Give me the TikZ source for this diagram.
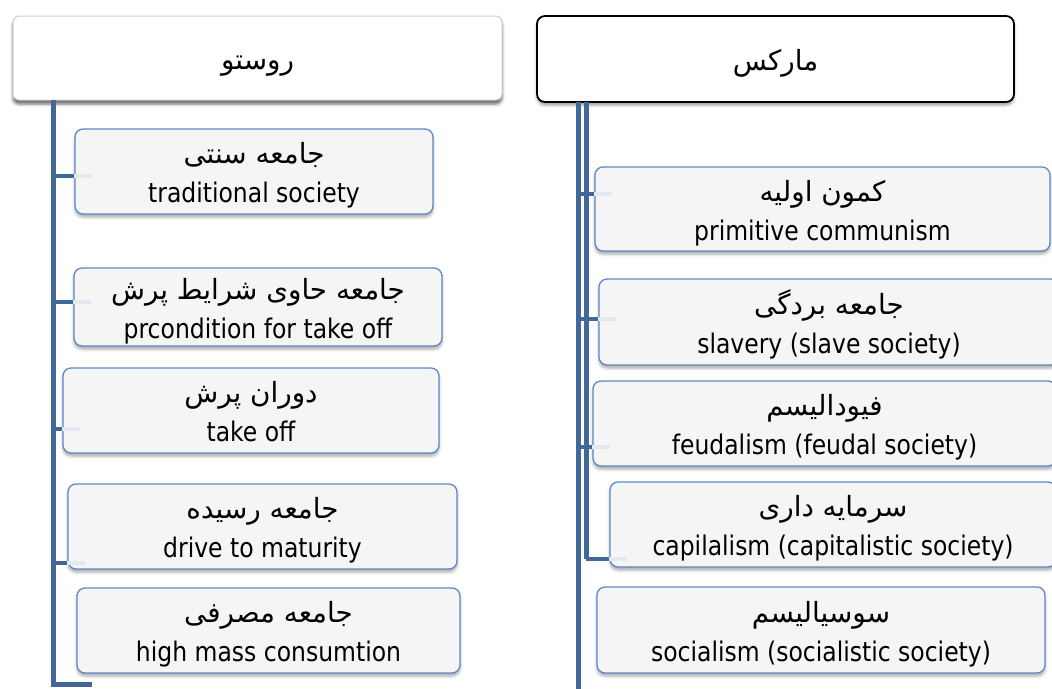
\documentclass[tikz,border=0pt]{standalone}
\usepackage{fontspec}
\setmainfont{DejaVu Sans}[FakeStretch=0.87]
\newfontfamily\arabicfont[Script=Arabic,Scale=1.03]{DejaVu Sans}
\TeXXeTstate=1
\usetikzlibrary{shadows.blur}

\definecolor{trunkblue}{RGB}{66,104,154}
\definecolor{boxblue}{RGB}{92,137,198}
\definecolor{boxfill}{RGB}{245,245,246}
\definecolor{fadeblue}{RGB}{226,233,242}
\definecolor{headgray}{RGB}{205,205,205}

% Persian text, set right to left
\newcommand\fa[1]{{\arabicfont\beginR #1\endR}}
% two-line stage label: Persian above, English below
\newcommand\stagetext[2]{\rule{0pt}{31pt}\fa{#1}\\\rule[-8pt]{0pt}{8pt}#2}

\begin{document}
\begin{tikzpicture}[x=1pt,y=-1pt,
  txt/.style={align=center, inner sep=0pt, font=\fontsize{27}{39}\selectfont},
  stage/.style={txt, draw=boxblue, line width=1.3pt, fill=boxfill, rounded corners=8pt,
    blur shadow={shadow xshift=0pt, shadow yshift=-3pt, shadow blur radius=3pt, shadow opacity=35}},
  head/.style={txt, text height=22pt, text depth=0pt, fill=white},
  lhead/.style={head, draw=headgray, line width=1pt, rounded corners=6pt,
    blur shadow={shadow xshift=0pt, shadow yshift=-4pt, shadow blur radius=3pt, shadow opacity=60}},
  rhead/.style={head, draw=black, line width=1.8pt, rounded corners=8pt,
    blur shadow={shadow xshift=0pt, shadow yshift=-3pt, shadow blur radius=3pt, shadow opacity=40}},
  trunk/.style={draw=trunkblue, line width=5pt},
  branch/.style={draw=trunkblue, line width=4pt},
  fade/.style={draw=fadeblue, line width=4pt},
]
\useasboundingbox (0,0) rectangle (1052,688);

% ---------- Rostow ----------
\node[lhead, minimum width=489pt, minimum height=84pt] (lh) at (257.5,58) {\fa{روستو}};

\node[stage, minimum width=358pt, minimum height=85pt] (l1) at (254,171.5)
  {\stagetext{جامعه سنتی}{traditional society}};
\node[stage, minimum width=368pt, minimum height=78pt] (l2) at (258,307)
  {\stagetext{جامعه حاوی شرایط پرش}{prcondition for take off}};
\node[stage, minimum width=376pt, minimum height=85pt] (l3) at (251,410.5)
  {\stagetext{دوران پرش}{take off}};
\node[stage, minimum width=389pt, minimum height=85pt] (l4) at (262.5,526.5)
  {\stagetext{جامعه رسیده}{drive to maturity}};
\node[stage, minimum width=383pt, minimum height=85pt] (l5) at (268.5,630.5)
  {\stagetext{جامعه مصرفی}{high mass consumtion}};

\coordinate (ltop) at (53,100);
\coordinate (lj1) at (53,176);
\coordinate (lj2) at (53,302);
\coordinate (lj3) at (53,429);
\coordinate (lj4) at (53,563);
\coordinate (lbot) at (53,684);
\coordinate (ltip) at (92,684);

\foreach \b/\j in {l1/lj1,l2/lj2,l3/lj3,l4/lj4}
  \draw[fade] (\b.west |- \j) -- ++(18,0);
\draw[trunk] (ltop) -- (lbot) -- (ltip);
\foreach \b/\j in {l1/lj1,l2/lj2,l3/lj3,l4/lj4}
  \draw[branch] (\j) -- (\b.west |- \j);

% ---------- Marx ----------
\node[rhead, minimum width=477pt, minimum height=86pt] (rh) at (775.5,59) {\fa{مارکس}};

\node[stage, minimum width=455pt, minimum height=84pt] (r1) at (822.5,209)
  {\stagetext{کمون اولیه}{primitive communism}};
\node[stage, minimum width=460pt, minimum height=86pt] (r2) at (829,322)
  {\stagetext{جامعه بردگی}{slavery (slave society)}};
\node[stage, minimum width=463pt, minimum height=85pt] (r3) at (824.5,423.5)
  {\stagetext{فیودالیسم}{feudalism (feudal society)}};
\node[stage, minimum width=446pt, minimum height=85pt] (r4) at (833,524.5)
  {\stagetext{سرمایه داری}{capilalism (capitalistic society)}};
\node[stage, minimum width=448pt, minimum height=86pt] (r5) at (821,630)
  {\stagetext{سوسیالیسم}{socialism (socialistic society)}};

\coordinate (rotop) at (578,102);
\coordinate (robot) at (578,700);
\coordinate (ritop) at (586,102);
\coordinate (rj1) at (578,194);
\coordinate (rj2) at (578,319);
\coordinate (rj3) at (578,447);
\coordinate (rj4) at (586,559);

\foreach \b/\j in {r1/rj1,r2/rj2,r3/rj3,r4/rj4}
  \draw[fade] (\b.west |- \j) -- ++(18,0);
\draw[trunk] (rotop) -- (robot);
\draw[trunk] (ritop) -- (rj4);
\foreach \b/\j in {r1/rj1,r2/rj2,r3/rj3,r4/rj4}
  \draw[branch] (\j) -- (\b.west |- \j);
\end{tikzpicture}
\end{document}
